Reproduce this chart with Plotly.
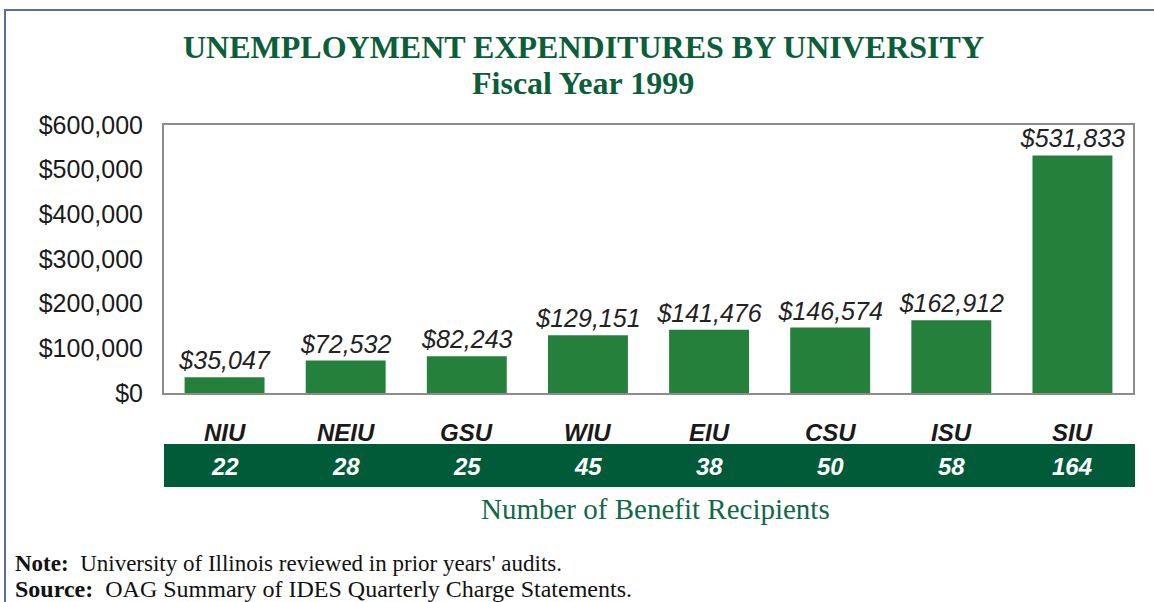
import plotly.graph_objects as go

universities = ["NIU", "NEIU", "GSU", "WIU", "EIU", "CSU", "ISU", "SIU"]
expenditures = [35047, 72532, 82243, 129151, 141476, 146574, 162912, 531833]
recipients = [22, 28, 25, 45, 38, 50, 58, 164]
y_ticks = [0, 100000, 200000, 300000, 400000, 500000, 600000]

W, H = 1154, 602
def px_x(x): return x / W
def px_y(y): return 1 - y / H

BAR = "#25803C"
DARK = "#015B39"
TITLE = "#0B5E3A"
SANS = "Liberation Sans, Arial, sans-serif"
SERIF = "Liberation Serif, Times New Roman, serif"

fig = go.Figure()
fig.add_trace(go.Bar(
    x=universities, y=expenditures,
    marker=dict(color=BAR, line=dict(width=0)),
    text=[f"${v:,}" for v in expenditures],
    textposition="outside",
    constraintext="none",
    textfont=dict(family=SANS, size=25, color="#222222", style="italic"),
    cliponaxis=False,
    hoverinfo="skip",
))

annotations = [
    dict(text="<b>UNEMPLOYMENT EXPENDITURES BY UNIVERSITY</b>", x=px_x(583), y=px_y(47),
         xref="paper", yref="paper", showarrow=False, xanchor="center", yanchor="middle",
         font=dict(family=SERIF, size=32, color=TITLE)),
    dict(text="<b>Fiscal Year 1999</b>", x=px_x(583), y=px_y(83),
         xref="paper", yref="paper", showarrow=False, xanchor="center", yanchor="middle",
         font=dict(family=SERIF, size=32, color=TITLE)),
    dict(text="Number of Benefit Recipients", x=px_x(655), y=px_y(509),
         xref="paper", yref="paper", showarrow=False, xanchor="center", yanchor="middle",
         font=dict(family=SERIF, size=29, color="#12674A")),
    dict(text="<b>Note:</b>  University of Illinois reviewed in prior years' audits.",
         x=px_x(13), y=px_y(563), xref="paper", yref="paper", showarrow=False,
         xanchor="left", yanchor="middle", font=dict(family=SERIF, size=23, color="#111111")),
    dict(text="<b>Source:</b>  OAG Summary of IDES Quarterly Charge Statements.",
         x=px_x(13), y=px_y(589), xref="paper", yref="paper", showarrow=False,
         xanchor="left", yanchor="middle", font=dict(family=SERIF, size=24, color="#111111")),
]
for u, r in zip(universities, recipients):
    annotations.append(dict(text=f"<b><i>{u}</i></b>", x=u, y=px_y(432), xref="x", yref="paper",
                            showarrow=False, xanchor="center", yanchor="middle",
                            font=dict(family=SANS, size=24, color="#1a1a1a")))
    annotations.append(dict(text=f"<b><i>{r}</i></b>", x=u, y=px_y(466), xref="x", yref="paper",
                            showarrow=False, xanchor="center", yanchor="middle",
                            font=dict(family=SANS, size=24, color="white")))

shapes = [
    dict(type="rect", xref="paper", yref="paper", x0=px_x(164), x1=px_x(1135),
         y0=px_y(487), y1=px_y(444), fillcolor=DARK, line=dict(width=0), layer="below"),
    dict(type="rect", xref="paper", yref="paper", x0=px_x(5), x1=1.2,
         y0=-0.2, y1=px_y(10), fillcolor="rgba(0,0,0,0)", line=dict(color="#5A6AAD", width=2)),
]

fig.update_layout(
    width=W, height=H,
    margin=dict(l=0, r=0, t=0, b=0, autoexpand=False),
    paper_bgcolor="white", plot_bgcolor="white",
    showlegend=False,
    bargap=0.34,
    annotations=annotations,
    shapes=shapes,
    xaxis=dict(domain=[px_x(164), px_x(1133)], showticklabels=False, ticks="",
               showline=True, mirror=True, linecolor="#8C8C8C", linewidth=2,
               showgrid=False, automargin=False, fixedrange=True),
    yaxis=dict(domain=[px_y(393), px_y(125)], range=[0, 600000], tickvals=y_ticks,
               ticktext=[f"${v:,}" for v in y_ticks],
               tickfont=dict(family=SANS, size=25, color="#1a1a1a"),
               ticks="", ticklabelstandoff=14,
               showline=True, mirror=True, linecolor="#8C8C8C", linewidth=2,
               showgrid=False, zeroline=False, automargin=False, fixedrange=True),
)

fig.write_html("out.html", config={"displayModeBar": False},
               post_script="document.body.style.margin='0';document.body.style.overflow='hidden';")
